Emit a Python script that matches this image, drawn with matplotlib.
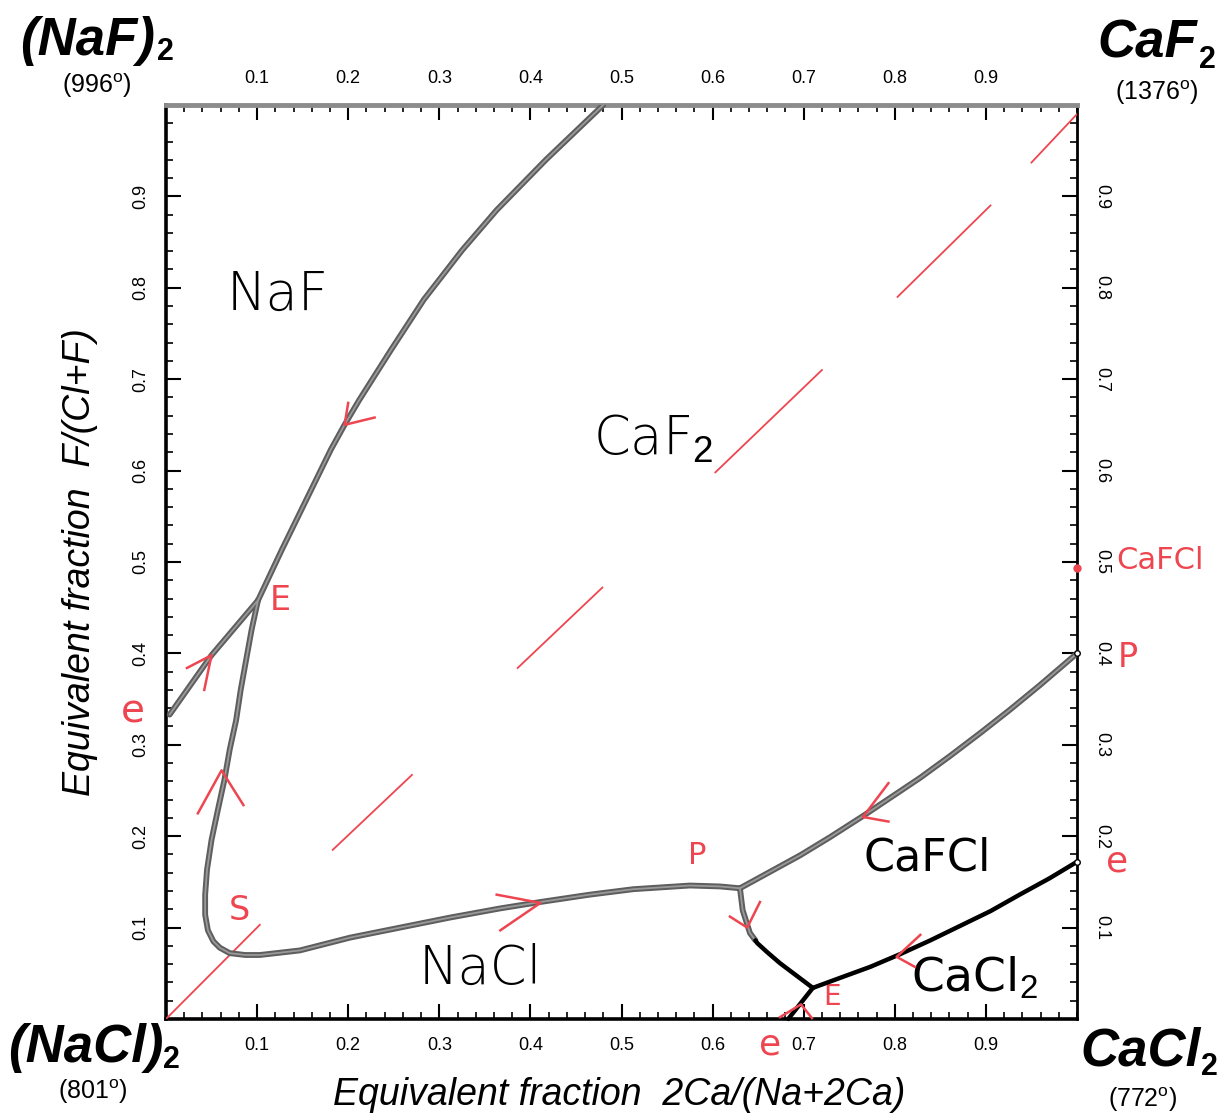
import numpy as np
import matplotlib
matplotlib.use("Agg")
import matplotlib.pyplot as plt
from matplotlib.ticker import MultipleLocator

plt.rcParams['font.family'] = ['Liberation Sans', 'DejaVu Sans']
plt.rcParams['mathtext.fontset'] = 'custom'
plt.rcParams['mathtext.rm'] = 'Liberation Sans'
plt.rcParams['mathtext.it'] = 'Liberation Sans:italic'

# --- boundary curves (x = 2Ca/(Na+2Ca), y = F/(Cl+F)) ---
naf_caf2_x = [0.101, 0.127, 0.154, 0.181, 0.196, 0.212, 0.247, 0.283, 0.325, 0.363, 0.417, 0.480]
naf_caf2_y = [0.458, 0.513, 0.568, 0.623, 0.650, 0.677, 0.732, 0.787, 0.841, 0.885, 0.940, 1.000]

naf_nacl_x = [0.004, 0.050, 0.101]
naf_nacl_y = [0.333, 0.398, 0.458]

nacl_caf2_x = [0.101, 0.094, 0.088, 0.082, 0.077, 0.070, 0.064, 0.057, 0.050, 0.045, 0.043,
               0.043, 0.046, 0.052, 0.059, 0.070, 0.087, 0.103, 0.147, 0.202, 0.257, 0.312,
               0.367, 0.411, 0.465, 0.513, 0.575, 0.608, 0.630]
nacl_caf2_y = [0.458, 0.426, 0.393, 0.360, 0.327, 0.295, 0.261, 0.229, 0.196, 0.163, 0.136,
               0.114, 0.097, 0.085, 0.078, 0.072, 0.070, 0.070, 0.075, 0.089, 0.100, 0.111,
               0.121, 0.128, 0.136, 0.142, 0.146, 0.145, 0.143]

caf2_cafcl_x = [0.630, 0.663, 0.696, 0.729, 0.765, 0.795, 0.828, 0.861, 0.894, 0.926, 0.959, 1.000]
caf2_cafcl_y = [0.143, 0.161, 0.179, 0.199, 0.222, 0.242, 0.264, 0.288, 0.313, 0.338, 0.365, 0.400]

nacl_cafcl_gray_x = [0.630, 0.633, 0.641, 0.647]
nacl_cafcl_gray_y = [0.143, 0.119, 0.094, 0.086]
nacl_cafcl_black_x = [0.647, 0.649, 0.660, 0.674, 0.710]
nacl_cafcl_black_y = [0.086, 0.083, 0.073, 0.061, 0.034]

nacl_cacl2_x = [0.710, 0.683]
nacl_cacl2_y = [0.034, 0.000]

cafcl_cacl2_x = [0.710, 0.740, 0.773, 0.806, 0.839, 0.872, 0.905, 0.937, 0.970, 1.000]
cafcl_cacl2_y = [0.034, 0.045, 0.057, 0.071, 0.086, 0.102, 0.118, 0.136, 0.154, 0.172]

# red pieces drawn along the diagonal
diag_x0 = [0.000, 0.183, 0.386, 0.603, 0.803, 0.950]
diag_y0 = [0.000, 0.185, 0.384, 0.598, 0.790, 0.937]
diag_x1 = [0.103, 0.270, 0.479, 0.720, 0.905, 1.000]
diag_y1 = [0.103, 0.267, 0.472, 0.710, 0.890, 0.990]

# red chevrons: tip and the two arm ends
chev_tip = [(0.196, 0.650), (0.050, 0.398), (0.061, 0.272), (0.411, 0.127),
            (0.638, 0.100), (0.765, 0.221), (0.802, 0.068), (0.697, 0.016)]
chev_a = [(0.200, 0.674), (0.023, 0.384), (0.035, 0.225), (0.363, 0.136),
          (0.619, 0.112), (0.793, 0.258), (0.828, 0.092), (0.674, 0.002)]
chev_b = [(0.229, 0.658), (0.042, 0.360), (0.085, 0.234), (0.367, 0.097),
          (0.652, 0.128), (0.793, 0.216), (0.822, 0.057), (0.709, 0.001)]

tick_vals = [0.1, 0.2, 0.3, 0.4, 0.5, 0.6, 0.7, 0.8, 0.9]
tick_labels = ["0.1", "0.2", "0.3", "0.4", "0.5", "0.6", "0.7", "0.8", "0.9"]

red = '#ee4650'
gray_out = '#5e5e5e'
gray_in = '#9a9a9a'

fig = plt.figure(figsize=(12.25, 11.2), dpi=100)
ax = fig.add_axes([0.1355, 0.0902, 0.7437, 0.8161])
ax.set_xlim(0, 1)
ax.set_ylim(0, 1)


def gray_line(xs, ys):
    ax.plot(xs, ys, color=gray_out, lw=4.2, solid_capstyle='round', solid_joinstyle='round', zorder=4)
    ax.plot(xs, ys, color=gray_in, lw=1.3, solid_capstyle='round', solid_joinstyle='round', zorder=5)


for xs, ys in [(naf_caf2_x, naf_caf2_y), (naf_nacl_x, naf_nacl_y),
               (nacl_caf2_x, nacl_caf2_y), (caf2_cafcl_x, caf2_cafcl_y),
               (nacl_cafcl_gray_x, nacl_cafcl_gray_y)]:
    gray_line(xs, ys)

for xs, ys in [(nacl_cafcl_black_x, nacl_cafcl_black_y), (nacl_cacl2_x, nacl_cacl2_y),
               (cafcl_cacl2_x, cafcl_cacl2_y)]:
    ax.plot(xs, ys, color='black', lw=3.2, solid_capstyle='round', solid_joinstyle='round',
            zorder=5, clip_on=False)

for x0, y0, x1, y1 in zip(diag_x0, diag_y0, diag_x1, diag_y1):
    ax.plot([x0, x1], [y0, y1], color=red, lw=1.3, zorder=3)

for t, a, b in zip(chev_tip, chev_a, chev_b):
    ax.plot([a[0], t[0], b[0]], [a[1], t[1], b[1]], color=red, lw=1.8, zorder=6, clip_on=False)

ax.plot([1.0], [0.493], 'o', color=red, ms=5, zorder=7, clip_on=False)
ax.plot([1.0, 1.0], [0.400, 0.172], 'o', mfc='white', mec='black', ms=4, mew=1, zorder=7, clip_on=False)

# handwritten region labels
hand = dict(fontsize=38, ha='center', va='center', family=['DejaVu Sans'], fontweight='light')
ax.text(0.123, 0.792, "NaF", **hand)
ax.text(0.535, 0.633, "CaF$_2$", **hand)
ax.text(0.345, 0.054, "NaCl", **hand)
ax.text(0.835, 0.176, "CaFCl", fontsize=32, ha='center', va='center', family=['DejaVu Sans'])
ax.text(0.888, 0.045, "CaCl$_2$", fontsize=34, ha='center', va='center', family=['DejaVu Sans'])

redtxt = dict(color=red, ha='center', va='center', family=['DejaVu Sans'], clip_on=False)
ax.text(0.125, 0.458, "E", fontsize=24, **redtxt)
ax.text(-0.036, 0.336, "e", fontsize=28, **redtxt)
ax.text(0.081, 0.119, "S", fontsize=24, **redtxt)
ax.text(0.583, 0.179, "P", fontsize=22, **redtxt)
ax.text(0.663, -0.028, "e", fontsize=26, **redtxt)
ax.text(0.731, 0.024, "E", fontsize=20, **redtxt)
ax.text(1.091, 0.502, "CaFCl", fontsize=22, **redtxt)
ax.text(1.056, 0.396, "P", fontsize=24, **redtxt)
ax.text(1.044, 0.172, "e", fontsize=26, **redtxt)

# axes frame and ticks
ax.set_xticks(tick_vals)
ax.set_xticklabels(tick_labels)
ax.set_yticks(tick_vals)
ax.set_yticklabels(tick_labels)
ax.xaxis.set_minor_locator(MultipleLocator(0.02))
ax.yaxis.set_minor_locator(MultipleLocator(0.02))
ax.tick_params(which='both', direction='in', top=True, right=True,
               labeltop=True, labelright=True, labelsize=13, color='black')
ax.tick_params(which='major', length=11, width=1.5)
ax.tick_params(which='minor', length=5, width=1.2)
ax.tick_params(axis='x', pad=13)
ax.tick_params(axis='y', pad=12)
for t in ax.yaxis.get_major_ticks():
    t.label1.set_rotation(90)
    t.label1.set_va('center')
    t.label2.set_rotation(-90)
    t.label2.set_va('center')

for side, lw, col in [('left', 2.6, 'black'), ('bottom', 2.6, 'black'),
                      ('right', 2.0, 'black'), ('top', 3.5, '#8c8c8c')]:
    ax.spines[side].set_linewidth(lw)
    ax.spines[side].set_color(col)

# axis titles
fig.text(619 / 1225, 1 - 1095 / 1120, "Equivalent fraction  2Ca/(Na+2Ca)",
         fontsize=27, style='italic', ha='center', va='center')
fig.text(80 / 1225, 1 - 562 / 1120, "Equivalent fraction  F/(Cl+F)",
         fontsize=27, style='italic', ha='center', va='center', rotation=90)

# corner components
big = dict(fontsize=38, fontweight='bold', style='italic', va='baseline')
sub = dict(fontsize=22, fontweight='bold', va='baseline')
tmp = dict(fontsize=18, ha='center', va='center')

fig.text(20 / 1225, 1 - 55 / 1120, "(NaF)", ha='left', **big)
fig.text(157 / 1225, 1 - 60 / 1120, "2", ha='left', **sub)
fig.text(97 / 1225, 1 - 86 / 1120, r"(996$^{\mathrm{o}}$)", **tmp)

fig.text(1197 / 1225, 1 - 57 / 1120, "CaF", ha='right', **big)
fig.text(1199 / 1225, 1 - 68 / 1120, "2", ha='left', **sub)
fig.text(1157 / 1225, 1 - 93 / 1120, r"(1376$^{\mathrm{o}}$)", **tmp)

fig.text(8 / 1225, 1 - 1062 / 1120, "(NaCl)", ha='left', **big)
fig.text(163 / 1225, 1 - 1068 / 1120, "2", ha='left', **sub)
fig.text(93 / 1225, 1 - 1092 / 1120, r"(801$^{\mathrm{o}}$)", **tmp)

fig.text(1201 / 1225, 1 - 1065 / 1120, "CaCl", ha='right', **big)
fig.text(1201 / 1225, 1 - 1075 / 1120, "2", ha='left', **sub)
fig.text(1143 / 1225, 1 - 1100 / 1120, r"(772$^{\mathrm{o}}$)", **tmp)

fig.savefig("out.png", dpi=100, facecolor='white')
